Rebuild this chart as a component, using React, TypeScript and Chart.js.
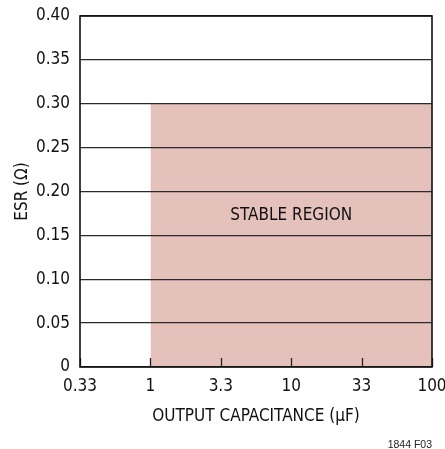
import { useEffect, useRef } from 'react';
import { Chart, registerables } from 'chart.js';

Chart.register(...registerables);

const FONT = "'DejaVu Sans Condensed', 'Liberation Sans Narrow', sans-serif";
const FS = 17;

// X axis (log) ticks: half-decade positions, labelled as in the original
const xMin = 0.316;
const xMax = 100;
const xTickValues = [0.316, 1, 3.16, 10, 31.6, 100];
const xTickLabels = ['0.33', '1', '3.3', '10', '33', '100'];
// Y axis ticks
const yTickValues = [0, 0.05, 0.1, 0.15, 0.2, 0.25, 0.3, 0.35, 0.4];
const yTickLabels = ['0', '0.05', '0.10', '0.15', '0.20', '0.25', '0.30', '0.35', '0.40'];
// Stable region boundary (upper ESR limit vs capacitance)
const regionCapacitance = [1, 100];
const regionESR = [0.3, 0.3];
// Region label
const regionLabel = 'STABLE REGION';
const regionLabelX = 10;
const regionLabelY = 0.172;
const footnote = '1844 F03';

const overlayPlugin = {
  id: 'overlay',
  afterDraw(chart: any) {
    const { ctx, chartArea, scales } = chart;
    const xs = scales.x;
    const ys = scales.y;
    ctx.save();
    // region label
    ctx.fillStyle = '#111';
    ctx.font = `${FS}px ${FONT}`;
    ctx.textAlign = 'center';
    ctx.textBaseline = 'middle';
    ctx.fillText(regionLabel, xs.getPixelForValue(regionLabelX), ys.getPixelForValue(regionLabelY));
    // inner tick marks on x axis
    ctx.strokeStyle = '#222';
    ctx.lineWidth = 1.3;
    xTickValues.forEach((v) => {
      const px = Math.round(xs.getPixelForValue(v)) + 0.5;
      ctx.beginPath();
      ctx.moveTo(px, chartArea.bottom);
      ctx.lineTo(px, chartArea.bottom - 9);
      ctx.stroke();
    });
    // frame
    ctx.strokeStyle = '#111';
    ctx.lineWidth = 1.6;
    ctx.strokeRect(chartArea.left, chartArea.top, chartArea.right - chartArea.left, chartArea.bottom - chartArea.top);
    // footnote
    ctx.fillStyle = '#222';
    ctx.font = `10.5px 'Liberation Sans', Arial, sans-serif`;
    ctx.textAlign = 'right';
    ctx.textBaseline = 'middle';
    ctx.fillText(footnote, 432, 445);
    ctx.restore();
  },
};

export default function App() {
  const ref = useRef<HTMLCanvasElement>(null);
  useEffect(() => {
    const chart = new Chart(ref.current!, {
      type: 'scatter',
      data: {
        datasets: [
          {
            data: regionCapacitance.map((c, i) => ({ x: c, y: regionESR[i] })),
            showLine: true,
            fill: 'origin',
            backgroundColor: '#e5c1bc',
            borderWidth: 0,
            borderColor: 'rgba(0,0,0,0)',
            pointRadius: 0,
          },
        ],
      },
      options: {
        animation: false,
        responsive: true,
        maintainAspectRatio: false,
        layout: { padding: { top: 16, right: 13, bottom: 0, left: 0 } },
        plugins: { legend: { display: false }, tooltip: { enabled: false } },
        scales: {
          x: {
            type: 'logarithmic',
            bounds: 'data',
            min: xMin,
            max: xMax,
            afterBuildTicks: (s: any) => {
              s.ticks = xTickValues.map((v) => ({ value: v }));
            },
            afterFit: (s: any) => {
              s.height = 82;
              s.paddingLeft = 0;
              s.paddingRight = 0;
            },
            grid: { display: false, drawTicks: false },
            border: { display: false },
            ticks: {
              autoSkip: false,
              maxRotation: 0,
              padding: 9,
              color: '#111',
              font: { family: FONT, size: FS },
              callback: (_v: any, i: number) => xTickLabels[i],
            },
            title: {
              display: true,
              text: 'OUTPUT CAPACITANCE (μF)',
              color: '#111',
              font: { family: FONT, size: FS },
              padding: { top: 0, bottom: 22 },
            },
          },
          y: {
            type: 'linear',
            min: 0,
            max: 0.4,
            afterBuildTicks: (s: any) => {
              s.ticks = yTickValues.map((v) => ({ value: v }));
            },
            afterFit: (s: any) => {
              s.width = 80;
              s.paddingTop = 0;
              s.paddingBottom = 0;
            },
            grid: { color: '#2a2a2a', lineWidth: 1.3, drawTicks: false, z: 1 },
            border: { display: false },
            ticks: {
              padding: 10,
              color: '#111',
              font: { family: FONT, size: FS },
              callback: (_v: any, i: number) => yTickLabels[i],
            },
            title: {
              display: true,
              text: 'ESR (Ω)',
              color: '#111',
              font: { family: FONT, size: FS },
              padding: { top: 12, bottom: 0 },
            },
          },
        },
      },
      plugins: [overlayPlugin],
    } as any);
    return () => chart.destroy();
  }, []);
  return (
    <div style={{ position: 'fixed', left: 0, top: 0, width: 445, height: 449 }}>
      <canvas ref={ref} />
    </div>
  );
}
